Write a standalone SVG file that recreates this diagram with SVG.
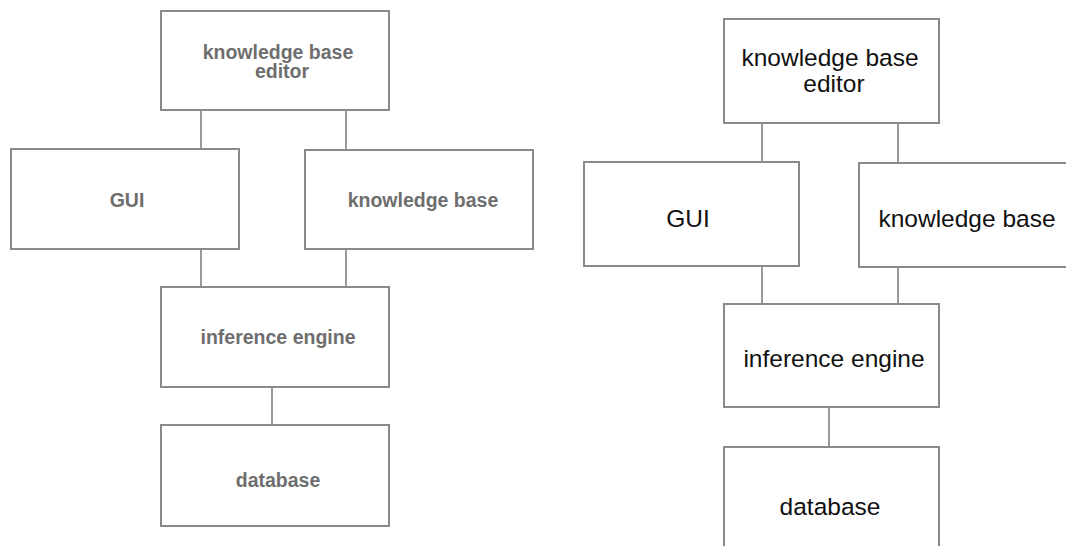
<svg xmlns="http://www.w3.org/2000/svg" width="1066" height="546" viewBox="0 0 1066 546">
  <style>
    .box { fill: #ffffff; stroke: #8a8a8a; stroke-width: 2; }
    .link { fill: none; stroke: #9a9a9a; stroke-width: 2; }
    .lbl-a { font-family: "Liberation Sans", Arial, sans-serif; font-weight: bold; font-size: 19.5px; fill: #6e6e6e; text-anchor: middle; }
    .lbl-b { font-family: "Liberation Sans", Arial, sans-serif; font-size: 24.5px; fill: #111111; text-anchor: middle; }
  </style>
  <rect width="1066" height="546" fill="#ffffff"/>

  <!-- left architecture: connectors -->
  <g id="connectors-left">
    <line class="link" x1="201" y1="110" x2="201" y2="149"/>
    <line class="link" x1="346" y1="110" x2="346" y2="150"/>
    <line class="link" x1="201" y1="249" x2="201" y2="287"/>
    <line class="link" x1="346" y1="249" x2="346" y2="287"/>
    <line class="link" x1="272" y1="387" x2="272" y2="425"/>
  </g>

  <!-- left architecture: nodes -->
  <g id="left-kb-editor">
    <rect class="box" x="161" y="11" width="228" height="99"/>
    <text class="lbl-a" x="278" y="59">knowledge base</text>
    <text class="lbl-a" x="282" y="78">editor</text>
  </g>
  <g id="left-gui">
    <rect class="box" x="11" y="149" width="228" height="100"/>
    <text class="lbl-a" x="127" y="207">GUI</text>
  </g>
  <g id="left-kb">
    <rect class="box" x="305" y="150" width="228" height="99"/>
    <text class="lbl-a" x="423" y="207">knowledge base</text>
  </g>
  <g id="left-inference">
    <rect class="box" x="161" y="287" width="228" height="100"/>
    <text class="lbl-a" x="278" y="344">inference engine</text>
  </g>
  <g id="left-database">
    <rect class="box" x="161" y="425" width="228" height="101"/>
    <text class="lbl-a" x="278" y="487">database</text>
  </g>

  <!-- right architecture: connectors -->
  <g id="connectors-right">
    <line class="link" x1="762" y1="123" x2="762" y2="162"/>
    <line class="link" x1="898" y1="123" x2="898" y2="163"/>
    <line class="link" x1="762" y1="266" x2="762" y2="304"/>
    <line class="link" x1="898" y1="267" x2="898" y2="304"/>
    <line class="link" x1="829" y1="407" x2="829" y2="447"/>
  </g>

  <!-- right architecture: nodes -->
  <g id="right-kb-editor">
    <rect class="box" x="724" y="19" width="215" height="104"/>
    <text class="lbl-b" x="830" y="66">knowledge base</text>
    <text class="lbl-b" x="834" y="92">editor</text>
  </g>
  <g id="right-gui">
    <rect class="box" x="584" y="162" width="215" height="104"/>
    <text class="lbl-b" x="688" y="227">GUI</text>
  </g>
  <g id="right-kb">
    <rect class="box" x="859" y="163" width="220" height="104"/>
    <text class="lbl-b" x="967" y="227">knowledge base</text>
  </g>
  <g id="right-inference">
    <rect class="box" x="724" y="304" width="215" height="103"/>
    <text class="lbl-b" x="834" y="367">inference engine</text>
  </g>
  <g id="right-database">
    <rect class="box" x="724" y="447" width="215" height="110"/>
    <text class="lbl-b" x="830" y="515">database</text>
  </g>
</svg>
